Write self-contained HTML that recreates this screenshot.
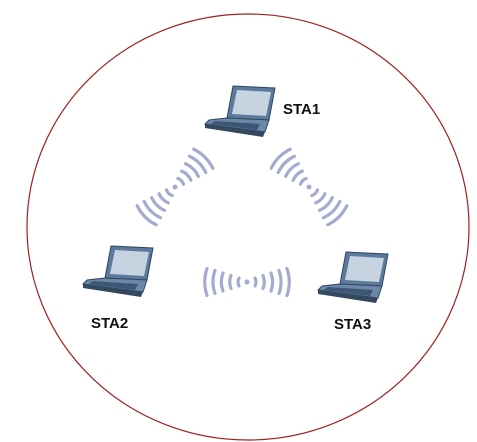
<!DOCTYPE html>
<html><head><style>body{margin:0;background:#fff}svg{display:block}text{font-family:"Liberation Sans",sans-serif;font-weight:bold;font-size:15px;fill:#111}</style></head><body>
<svg width="477" height="442" viewBox="0 0 477 442">
<defs>
<g id="lap">
 <polygon points="28,0 70,2 64,34 22,32" fill="#5c7a9c" stroke="#2f4660" stroke-width="1"/>
 <polygon points="32,4 66,6 61,30 27,28" fill="#c7d3e0"/>
 <polygon points="22,32 64,34 60,46 0,38 4,34" fill="#6c88a8" stroke="#2f4660" stroke-width="1"/>
 <polygon points="10,35 55,38 52,44 6,38" fill="#3d5674"/>
 <polygon points="0,38 60,46 58,51 0,42" fill="#34495f"/>
</g>
<g id="wf" fill="none" stroke="#a5abd0" stroke-width="3.2" stroke-linecap="round">
 <circle r="2.5" fill="#a5abd0" stroke="none"/>
 <path d="M8,-4 A9,9 0 0 1 8,4 M-8,-4 A9,9 0 0 0 -8,4"/>
 <path d="M16,-6.5 A17.3,17.3 0 0 1 16,6.5 M-16,-6.5 A17.3,17.3 0 0 0 -16,6.5"/>
 <path d="M24,-9 A25.6,25.6 0 0 1 24,9 M-24,-9 A25.6,25.6 0 0 0 -24,9"/>
 <path d="M32,-11.5 A34,34 0 0 1 32,11.5 M-32,-11.5 A34,34 0 0 0 -32,11.5"/>
 <path d="M40,-13.5 A42.2,42.2 0 0 1 40,13.5 M-40,-13.5 A42.2,42.2 0 0 0 -40,13.5"/>
</g>
</defs>
<ellipse cx="248" cy="227" rx="221" ry="213" fill="none" stroke="#a02020" stroke-width="1.2"/>
<use href="#lap" x="205" y="86"/>
<use href="#lap" x="83" y="246"/>
<use href="#lap" x="318" y="252"/>
<use href="#wf" transform="translate(175,187) rotate(-45)"/>
<use href="#wf" transform="translate(309,187) rotate(45)"/>
<use href="#wf" transform="translate(247,282)"/>
<text x="283" y="114">STA1</text>
<text x="91" y="328">STA2</text>
<text x="334" y="329">STA3</text>
</svg>
</body></html>
